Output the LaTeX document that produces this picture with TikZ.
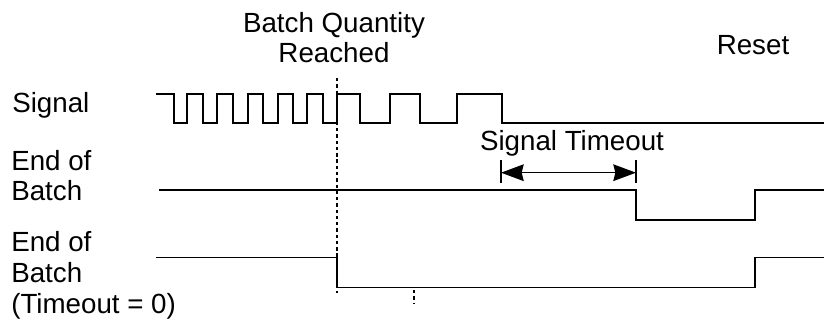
\documentclass[tikz,border=0pt]{standalone}
\usepackage{fontspec}
\setmainfont{Liberation Sans}
\usetikzlibrary{arrows.meta}
\begin{document}
\begin{tikzpicture}[x=0.75pt,y=-0.75pt,
  wave/.style={line width=1.3pt, line join=miter, line cap=rect},
  marker/.style={line width=1.3pt, dash pattern=on 2.5pt off 2.2pt},
  tick/.style={line width=1pt},
  lbl/.style={font=\fontsize{20.8}{23}\selectfont, inner sep=0pt, align=left},
  clbl/.style={font=\fontsize{20.8}{23}\selectfont, inner sep=0pt, align=center},
  span/.style={line width=1.1pt, {Stealth[length=17pt,width=12.5pt,inset=1.5pt]}-{Stealth[length=17pt,width=12.5pt,inset=1.5pt]}}]
\useasboundingbox (0,0) rectangle (824,320);

% labels (base anchor = baseline of the last line)
\node[lbl, anchor=base west] (sig) at (12,113) {Signal};
\node[lbl, anchor=base west] (eob) at (11,201) {End of\\Batch};
\node[lbl, anchor=base west] (eobt) at (11,313) {End of\\Batch\\(Timeout = 0)};
\node[clbl, anchor=base] (bqr) at (334,63) {Batch Quantity\\Reached};
\node[clbl, anchor=base] (rst) at (753,55) {Reset};
\node[clbl, anchor=base] (sto) at (572,151) {Signal Timeout};

% signal waveform
\draw[wave] (157,94) -| (174,123) -| (187,94) -| (203,123) -| (217,94)
  -| (233,123) -| (248,94) -| (263,123) -| (278,94) -| (293,123)
  -| (307,94) -| (323,123) -| (337,94) -| (360,123) -| (390,94)
  -| (420,123) -| (457,94) -| (502,123) -- (824,123);

% end of batch
\draw[wave] (160,190) -| (636,220) -| (755,190) -- (824,190);

% end of batch, timeout = 0
\draw[wave] (157,257.5) -| (337,287.5) -| (755,257.5) -- (824,257.5);

% batch quantity marker
\coordinate (mtop) at (337,78);
\coordinate (mbot) at (337,293);
\draw[marker] (mtop) -- (mbot);
\coordinate (m2top) at (414,290);
\coordinate (m2bot) at (414,303);
\draw[marker] (m2top) -- (m2bot);

% signal timeout span
\coordinate (tl) at (501,172.7);
\coordinate (tr) at (636,172.7);
\draw[tick] (501,160) -- (501,183);
\draw[tick] (636,160) -- (636,183);
\draw[span] (tl) -- (tr);
\end{tikzpicture}
\end{document}
